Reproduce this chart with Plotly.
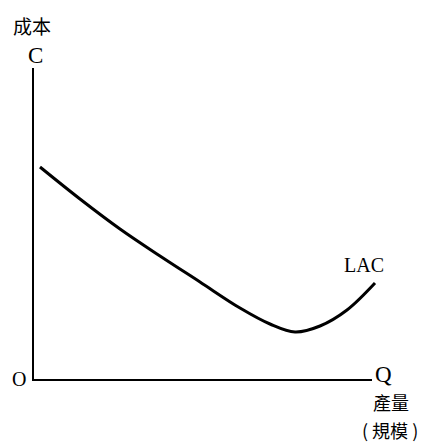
import plotly.graph_objects as go

# LAC curve: output Q vs long-run average cost C (arbitrary units)
q_values = [7, 47, 87, 127, 167, 207, 237, 262, 287, 314, 342]
c_values = [213, 181, 151, 124, 98, 72, 56, 48, 54, 70, 97]

axis_q_max = 339
axis_c_max = 312

serif = "Liberation Serif, DejaVu Serif, serif"
cjk = "Noto Sans CJK TC, Noto Sans CJK SC, sans-serif"

fig = go.Figure()
# axes
fig.add_trace(go.Scatter(x=[0, 0, axis_q_max], y=[axis_c_max, 0, 0], mode="lines",
                         line=dict(color="black", width=2), hoverinfo="skip"))
# LAC curve
fig.add_trace(go.Scatter(x=q_values, y=c_values, mode="lines",
                         line=dict(color="black", width=3, shape="spline", smoothing=1.0),
                         hoverinfo="skip"))

def ann(text, px, py, size, family):
    fig.add_annotation(x=px - 33, y=380 - py, text=text, showarrow=False,
                       font=dict(size=size, family=family, color="black"),
                       xanchor="center", yanchor="middle")

ann("成本", 32, 25, 19, cjk)
ann("C", 35, 55, 23, serif)
ann("O", 19, 379, 20, serif)
ann("Q", 383, 374, 23, serif)
ann("LAC", 364, 265, 20, serif)
ann("產量", 391, 402, 18, cjk)
ann("(&nbsp;規模&nbsp;)", 390, 430, 18, cjk)

fig.update_layout(
    width=434, height=445,
    margin=dict(l=0, r=0, t=0, b=0),
    paper_bgcolor="white", plot_bgcolor="white",
    showlegend=False,
    xaxis=dict(range=[-33, 401], visible=False, fixedrange=True),
    yaxis=dict(range=[-65, 380], visible=False, fixedrange=True),
)
fig.write_html("out.html", config={"displayModeBar": False},
               post_script="document.body.style.margin='0';document.body.style.overflow='hidden';")
